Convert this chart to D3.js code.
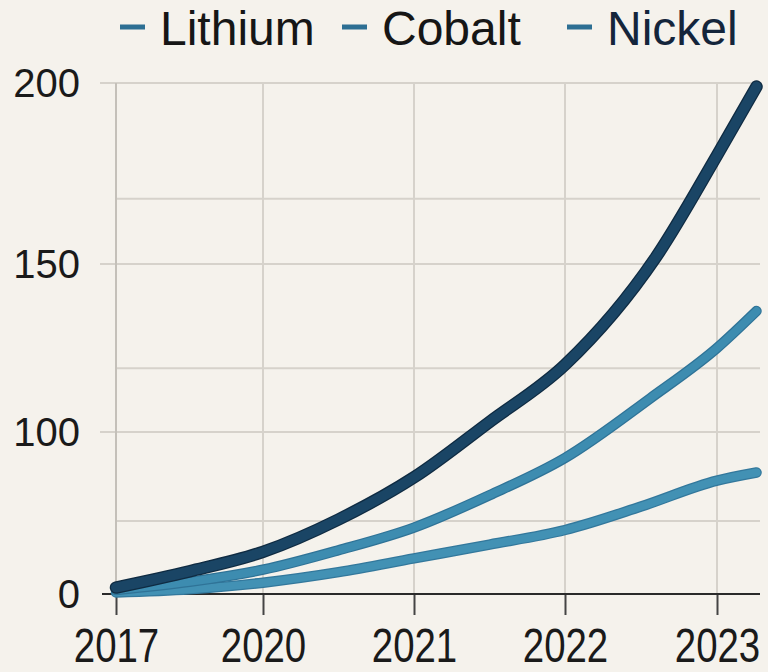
<!DOCTYPE html>
<html>
<head>
<meta charset="utf-8">
<script src="https://cdn.jsdelivr.net/npm/d3@7"></script>
<style>
  html, body { margin: 0; padding: 0; background: #f5f2ec; }
  svg { display: block; }
</style>
</head>
<body>
<div class="chart"></div>
<script>
// values
const years = ["2017", "2020", "2021", "2022", "2023"];
const yTickValues = [0, 100, 150, 200];
const yMinorGrid = [45, 119, 168];

const seriesNames = ["Lithium", "Cobalt", "Nickel"];
const lithiumX = [0, 0.5, 1, 1.5, 2, 2.5, 3, 3.6, 4, 4.26];
const lithiumY = [4, 14, 26, 46, 72, 103, 120, 152, 180, 199];
const cobaltX = [0, 0.5, 1, 1.5, 2, 2.5, 3, 3.56, 4, 4.26];
const cobaltY = [2.5, 7.5, 15, 27, 41, 61, 84, 110, 125, 136];
const nickelX = [0, 0.5, 1, 1.5, 2, 2.5, 3, 3.5, 4, 4.26];
const nickelY = [1, 3, 7, 13.5, 22, 30.5, 39.5, 54, 70, 75];

const width = 768, height = 672;

const svg = d3.select(".chart")
  .append("svg")
  .attr("width", width)
  .attr("height", height);

svg.append("rect")
  .attr("width", width)
  .attr("height", height)
  .attr("fill", "#f5f2ec");

// the picture's axes are not evenly spaced, so both scales are piecewise
const xScale = d3.scaleLinear()
  .domain([0, 1, 2, 3, 4])
  .range([116, 263, 414, 565, 717]);

const yScale = d3.scaleLinear()
  .domain([0, 100, 150, 200])
  .range([594, 432, 264, 83]);

const gridColor = "#d6d2cb";
const plotRight = 760;

// horizontal grid
svg.append("g")
  .selectAll("line")
  .data(yTickValues.concat(yMinorGrid))
  .join("line")
  .attr("x1", d => yTickValues.includes(d) && d !== 0 ? 100 : 116)
  .attr("x2", plotRight)
  .attr("y1", d => yScale(d))
  .attr("y2", d => yScale(d))
  .attr("stroke", gridColor)
  .attr("stroke-width", 2);

// vertical grid (first one doubles as the y axis)
svg.append("g")
  .selectAll("line")
  .data(d3.range(years.length))
  .join("line")
  .attr("x1", d => xScale(d))
  .attr("x2", d => xScale(d))
  .attr("y1", yScale(200))
  .attr("y2", yScale(0))
  .attr("stroke", d => d === 0 ? "#c4c0b9" : gridColor)
  .attr("stroke-width", 2);

// y labels
svg.append("g")
  .selectAll("text")
  .data(yTickValues)
  .join("text")
  .attr("x", 80)
  .attr("y", d => yScale(d))
  .attr("dy", "0.36em")
  .attr("text-anchor", "end")
  .attr("font-family", "'Liberation Sans', Arial, sans-serif")
  .attr("font-size", 40)
  .attr("fill", "#1a1a1a")
  .text(d => d);

// x axis
const xAxis = d3.axisBottom(xScale)
  .tickValues(d3.range(years.length))
  .tickFormat(i => years[i])
  .tickSize(21)
  .tickPadding(13);

const gx = svg.append("g")
  .attr("transform", `translate(0, ${yScale(0)})`)
  .call(xAxis);

gx.select(".domain").remove();
gx.selectAll(".tick line")
  .attr("stroke", "#444")
  .attr("stroke-width", 2);
// narrow digits: squeeze a regular face horizontally
gx.selectAll(".tick text")
  .attr("font-family", "'Liberation Sans', Arial, sans-serif")
  .attr("font-size", 48)
  .attr("transform", "scale(0.8,1)")
  .attr("fill", "#1a1a1a");

svg.append("line")
  .attr("x1", 102)
  .attr("x2", plotRight)
  .attr("y1", yScale(0))
  .attr("y2", yScale(0))
  .attr("stroke", "#2a2a2a")
  .attr("stroke-width", 2);

// lines
const series = [
  { name: seriesNames[0], xs: lithiumX, ys: lithiumY, color: "#1a4565", edge: "#0f2b42", w: 10 },
  { name: seriesNames[1], xs: cobaltX, ys: cobaltY, color: "#3d8cb0", edge: "#2f7397", w: 8 },
  { name: seriesNames[2], xs: nickelX, ys: nickelY, color: "#4291b4", edge: "#33789c", w: 8 }
];

const line = d3.line()
  .x(d => xScale(d[0]))
  .y(d => yScale(d[1]))
  .curve(d3.curveMonotoneX);

const lines = svg.append("g");
series.slice().reverse().forEach(s => {
  const pts = s.xs.map((x, i) => [x, s.ys[i]]);
  lines.append("path")
    .datum(pts)
    .attr("d", line)
    .attr("fill", "none")
    .attr("stroke", s.edge)
    .attr("stroke-width", s.w + 2.5)
    .attr("stroke-linecap", "round")
    .attr("stroke-linejoin", "round");
  lines.append("path")
    .datum(pts)
    .attr("d", line)
    .attr("fill", "none")
    .attr("stroke", s.color)
    .attr("stroke-width", s.w)
    .attr("stroke-linecap", "round")
    .attr("stroke-linejoin", "round");
});

// legend
const legendX = [120, 342, 567];
const legendText = ["#161616", "#161616", "#14253b"];
const legend = svg.append("g")
  .selectAll("g")
  .data(seriesNames)
  .join("g")
  .attr("transform", (d, i) => `translate(${legendX[i]}, 27)`);

legend.append("line")
  .attr("x1", 0)
  .attr("x2", 25)
  .attr("stroke", "#2d6f93")
  .attr("stroke-width", 5);

legend.append("text")
  .attr("x", 40)
  .attr("y", 18)
  .attr("font-family", "'Liberation Sans', Arial, sans-serif")
  .attr("font-size", 48)
  .attr("fill", (d, i) => legendText[i])
  .text(d => d);
</script>
</body>
</html>
